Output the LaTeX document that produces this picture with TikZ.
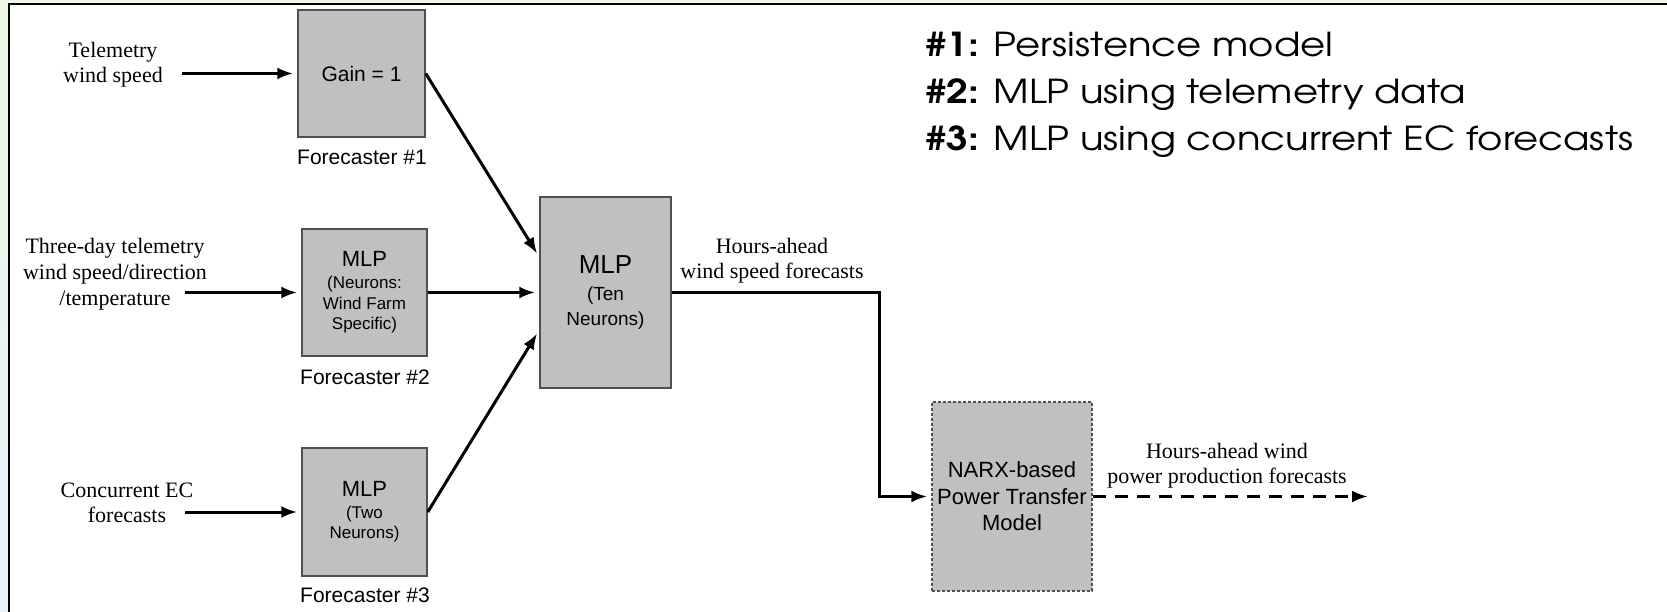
\documentclass[tikz,border=0pt]{standalone}
\usepackage{fontspec}
\setmainfont{Liberation Serif}
\newfontfamily\boxfont{Liberation Sans}
\newfontfamily\legendfont[FakeStretch=1.17]{TeX Gyre Adventor}
\usetikzlibrary{arrows.meta,calc}
\definecolor{bgG}{HTML}{EEF7E2}
\definecolor{bgB}{HTML}{E6F1FB}
\definecolor{boxfill}{HTML}{C0C0C0}
\definecolor{boxline}{HTML}{505050}
\begin{document}
\begin{tikzpicture}[x=1pt,y=-1pt,
  lbl/.style={font=\fontsize{22}{25}\selectfont, align=center, inner sep=0},
  blk/.style={draw=boxline, line width=1.5, fill=boxfill, inner sep=0, align=center},
  dashedblk/.style={blk, dash pattern=on 3 off 2},
  fcap/.style={font=\boxfont\fontsize{21}{24}\selectfont, inner sep=0},
  leg/.style={font=\legendfont\fontsize{33}{37}\selectfont, inner sep=0, anchor=base west},
  conn/.style={line width=3, -{Latex[length=16,width=12]}, shorten >=4},
  dconn/.style={conn, dash pattern=on 13 off 9}
]
\useasboundingbox (0,0) rectangle (1667,612);
\shade[top color=bgG, bottom color=bgB] (0,0) rectangle (1667,612);
\fill[white] (9,4) rectangle (1667,612);
\draw[line width=2] (9,612) -- (9,4) -- (1667,4);

% forecaster boxes
\node[blk, font=\boxfont\fontsize{21}{24}\selectfont, minimum width=127, minimum height=127] (b1) at (361.5,73.5) {Gain = 1};
\node[fcap] (f1) at (362,157) {Forecaster \#1};
\node[blk, font=\boxfont\fontsize{17}{20.5}\selectfont, minimum width=125, minimum height=127] (b2) at (364.5,292.5)
  {{\fontsize{22}{24}\selectfont MLP}\\[1.5pt](Neurons:\\Wind Farm\\Specific)};
\node[fcap] (f2) at (365,377) {Forecaster \#2};
\node[blk, font=\boxfont\fontsize{17}{20}\selectfont, minimum width=125, minimum height=128] (b3) at (364.5,512)
  {{\fontsize{22}{24}\selectfont MLP}\\[2pt](Two\\Neurons)};
\node[fcap] (f3) at (365,595) {Forecaster \#3};

% central MLP
\node[blk, font=\boxfont\fontsize{19}{25}\selectfont, minimum width=131, minimum height=191] (c) at (605.5,292.5)
  {{\fontsize{26}{29}\selectfont MLP}\\[1.5pt](Ten\\Neurons)};

% NARX
\node[dashedblk, font=\boxfont\fontsize{22}{26.5}\selectfont, minimum width=160, minimum height=189] (n) at (1012,496.5)
  {NARX-based\\Power Transfer\\Model};

% input labels
\node[lbl] (t1) at (113,64.5) {Telemetry\\wind speed};
\node[lbl, font=\fontsize{22}{26}\selectfont] (t2) at (115,274) {Three-day telemetry\\wind speed/direction\\/temperature};
\node[lbl] (t3) at (127,502.5) {Concurrent EC\\forecasts};
\coordinate (s1) at (182,73.5);
\coordinate (s2) at (185,292.5);
\coordinate (s3) at (185,512);

\draw[conn] (s1) -- (b1.west);
\draw[conn] (s2) -- (b2.west);
\draw[conn] (s3) -- (b3.west);

\draw[conn] (b1.east) -- ($(c.west)+(0,-35.5)$);
\draw[conn] (b2.east) -- (c.west);
\draw[conn] (b3.east) -- ($(c.west)+(0,37.5)$);

% output
\coordinate (bend) at (879,292.5);
\draw[conn] (c.east) -- (bend) |- (n.west);
\node[lbl] (o1) at (772,261) {Hours-ahead\\wind speed forecasts};

\coordinate (e) at (1372,496.5);
\draw[dconn] (n.east) -- (e);
\node[lbl] (o2) at (1227,465.5) {Hours-ahead wind\\power production forecasts};

% legend
\node[leg] (l1) at (925,57) {\textbf{\#1:} Persistence model};
\node[leg] (l2) at (925,104) {\textbf{\#2:} MLP using telemetry data};
\node[leg] (l3) at (925,151) {\textbf{\#3:} MLP using concurrent EC forecasts};
\end{tikzpicture}
\end{document}
